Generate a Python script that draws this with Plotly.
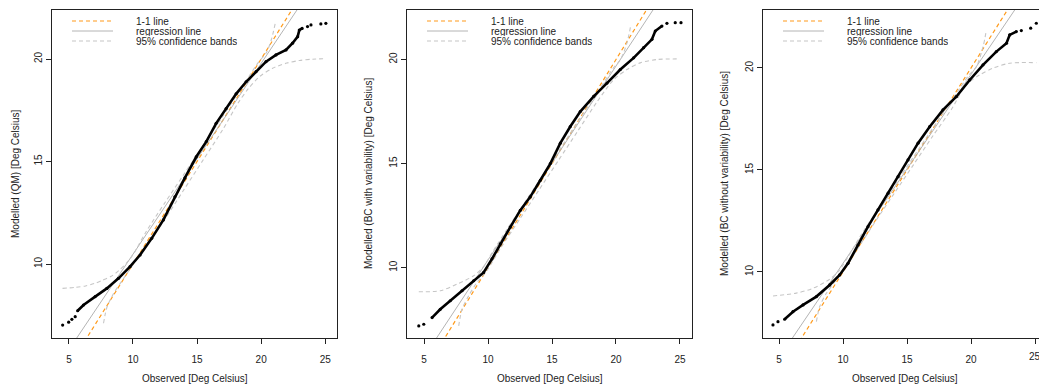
import plotly.graph_objects as go

W, H = 1039, 387

# ---------------- data ----------------
x_ticks = [5, 10, 15, 20, 25]
y_ticks = [10, 15, 20]

y_titles = ["Modelled (QM) [Deg Celsius]",
            "Modelled (BC with variability) [Deg Celsius]",
            "Modelled (BC without variability) [Deg Celsius]"]
x_title = "Observed [Deg Celsius]"
legend_labels = ["1-1 line", "regression line", "95% confidence bands"]

# panel 1 (QM)
p1_x = [5.68, 6.14, 7.05, 7.96, 8.87, 9.77, 10.55, 11.46, 12.37, 13.27, 14.05, 14.94, 15.72,
        16.49, 17.27, 18.05, 18.83, 19.6, 20.38, 21.16, 21.94, 22.45, 22.85, 22.98, 23.2]
p1_y = [7.72, 8.0, 8.41, 8.81, 9.30, 9.87, 10.44, 11.25, 12.15, 13.28, 14.2, 15.23, 15.97,
        16.86, 17.58, 18.3, 18.89, 19.38, 19.87, 20.2, 20.44, 20.77, 21.09, 21.41, 21.49]
p1_tail_x = [4.51, 4.98, 5.23, 5.49, 23.62, 23.89, 24.66, 25.05]
p1_tail_y = [7.02, 7.16, 7.30, 7.43, 21.58, 21.66, 21.71, 21.74]
p1_up_x = [4.5, 5.5, 6.3, 7.0, 7.6, 8.3, 8.9, 9.5, 10.0, 11.0, 12.5, 14.0, 15.5, 17.0, 18.0,
           19.0, 19.8, 20.4, 20.8, 21.1]
p1_up_y = [8.81, 8.86, 8.93, 9.05, 9.2, 9.4, 9.68, 10.05, 10.45, 11.55, 13.0, 14.4, 15.8, 17.2,
           18.15, 19.1, 19.85, 20.3, 20.95, 21.74]
p1_lo_x = [7.7, 7.85, 8.0, 8.5, 9.1, 9.9, 11.0, 12.5, 14.0, 15.5, 17.0, 18.2, 19.0, 19.9, 20.9,
           22.0, 23.0, 24.0, 25.05]
p1_lo_y = [7.11, 7.6, 7.95, 8.58, 9.14, 9.87, 10.85, 12.2, 13.65, 15.1, 16.55, 17.85, 18.55,
           19.15, 19.55, 19.8, 19.93, 19.99, 20.02]

# panel 2 (BC with variability)
p2_x = [5.63, 6.27, 7.05, 7.97, 8.88, 9.66, 10.31, 10.96, 11.74, 12.52, 13.3, 14.09, 14.87,
        15.65, 16.43, 17.21, 18.26, 19.3, 20.34, 21.38, 22.16, 22.81, 23.07, 23.59]
p2_y = [7.6, 8.0, 8.41, 8.89, 9.37, 9.77, 10.42, 11.14, 11.95, 12.75, 13.4, 14.2, 15.0,
        15.98, 16.78, 17.5, 18.23, 18.87, 19.52, 20.08, 20.57, 20.97, 21.37, 21.61]
p2_tail_x = [4.59, 4.98, 23.98, 24.63, 25.08]
p2_tail_y = [7.2, 7.28, 21.74, 21.77, 21.77]
p2_up_x = [4.59, 6.27, 7.58, 8.88, 9.66, 10.3, 11.5, 13.0, 14.5, 16.0, 17.5, 18.8, 19.8,
           20.34, 20.86, 21.17]
p2_up_y = [8.84, 8.89, 9.21, 9.61, 10.05, 10.7, 11.85, 13.25, 14.65, 16.05, 17.45, 18.65,
           19.6, 19.98, 20.8, 21.69]
p2_lo_x = [7.71, 7.97, 8.49, 9.14, 9.9, 11.0, 12.5, 14.0, 15.5, 17.0, 18.5, 19.82, 20.86,
           21.9, 23.2, 24.9]
p2_lo_y = [7.2, 8.0, 8.65, 9.29, 9.85, 10.95, 12.35, 13.75, 15.15, 16.55, 17.95, 19.03,
           19.52, 19.84, 20.0, 20.03]

# panel 3 (BC without variability)
p3_x = [5.44, 6.09, 6.88, 7.92, 8.96, 9.74, 10.39, 11.17, 11.95, 12.73, 13.52, 14.3, 15.08,
        15.86, 16.77, 17.81, 18.85, 19.9, 20.94, 21.98, 22.77, 23.02, 23.54]
p3_y = [7.68, 8.05, 8.38, 8.79, 9.36, 9.85, 10.42, 11.32, 12.22, 13.04, 13.86, 14.67, 15.49,
        16.31, 17.12, 17.94, 18.59, 19.41, 20.15, 20.8, 21.21, 21.62, 21.78]
p3_tail_x = [4.53, 4.92, 23.93, 24.66, 25.1]
p3_tail_y = [7.4, 7.56, 21.83, 21.95, 22.19]
p3_up_x = [4.53, 6.35, 7.66, 8.96, 9.74, 10.4, 11.5, 13.0, 14.5, 16.0, 17.5, 18.8, 19.8,
           20.42, 20.94, 21.2]
p3_up_y = [8.82, 8.96, 9.2, 9.64, 10.1, 10.75, 11.9, 13.3, 14.7, 16.1, 17.5, 18.7, 19.62,
           20.06, 21.04, 21.86]
p3_lo_x = [7.92, 8.18, 8.7, 9.35, 10.0, 11.0, 12.5, 14.0, 15.5, 17.0, 18.5, 19.61, 20.68,
           21.72, 23.02, 25.1]
p3_lo_y = [7.56, 8.3, 8.95, 9.52, 10.05, 11.0, 12.45, 13.85, 15.25, 16.65, 18.0, 19.17,
           19.66, 19.99, 20.23, 20.26]

# regression lines (intercept, slope)
reg_intercept = [1.167, 1.046, 1.16]
reg_slope = [0.931, 0.932, 0.926]

panels = [
    dict(x=p1_x, y=p1_y, tx=p1_tail_x, ty=p1_tail_y, ux=p1_up_x, uy=p1_up_y, lx=p1_lo_x, ly=p1_lo_y),
    dict(x=p2_x, y=p2_y, tx=p2_tail_x, ty=p2_tail_y, ux=p2_up_x, uy=p2_up_y, lx=p2_lo_x, ly=p2_lo_y),
    dict(x=p3_x, y=p3_y, tx=p3_tail_x, ty=p3_tail_y, ux=p3_up_x, uy=p3_up_y, lx=p3_lo_x, ly=p3_lo_y),
]

# ---------------- layout geometry (pixels) ----------------
box_left = [52, 407, 763]
box_right = [337, 692, 1047]          # third panel is cut off by the page edge
box_top, box_bottom = 10, 338
x_ranges = [[3.68, 25.92], [3.67, 25.94], [3.75, 25.31]]
y_ranges = [[6.39, 22.39], [6.62, 22.38], [6.76, 22.84]]
ytitle_px = [15, 368, 724]

ORANGE = "#FF9A1A"
REG = "#B4B4B4"
BAND = "#C6C6C6"
AX = "#222222"
FONT = "Liberation Sans, Arial, sans-serif"
FS = 10

fig = go.Figure()
layout = dict(width=W, height=H, margin=dict(l=0, r=0, t=0, b=0),
              paper_bgcolor="white", plot_bgcolor="white", showlegend=False,
              font=dict(family=FONT, size=FS, color=AX))
annotations, shapes = [], []

ydom = [1 - box_bottom / H, 1 - box_top / H]
for i, p in enumerate(panels):
    k = "" if i == 0 else str(i + 1)
    xa, ya = "x" + k, "y" + k
    right = min(box_right[i], W)
    xdom = [box_left[i] / W, right / W]
    last = (i == 2)
    layout["xaxis" + k] = dict(domain=xdom, range=x_ranges[i], anchor=ya, tickvals=x_ticks,
                               showgrid=False, zeroline=False, showline=True, linecolor=AX,
                               linewidth=1, mirror=True, ticks="outside", ticklen=5,
                               ticklabelstandoff=7,
                               tickcolor=AX, tickfont=dict(size=FS, color=AX, family=FONT))
    layout["yaxis" + k] = dict(domain=ydom, range=y_ranges[i], anchor=xa, tickvals=y_ticks,
                               showgrid=False, zeroline=False, showline=True, linecolor=AX,
                               linewidth=1, mirror=(not last), ticks="outside", ticklen=5,
                               tickcolor=AX, tickangle=-90,
                               tickfont=dict(size=FS, color=AX, family=FONT))
    x0, x1 = x_ranges[i]
    ext = [x0 - 5, x1 + 5]
    # 1-1 line
    fig.add_trace(go.Scatter(x=ext, y=ext, mode="lines", xaxis=xa, yaxis=ya,
                             line=dict(color=ORANGE, width=1.2, dash="4px,3px")))
    # regression line
    fig.add_trace(go.Scatter(x=ext, y=[reg_intercept[i] + reg_slope[i] * v for v in ext],
                             mode="lines", xaxis=xa, yaxis=ya,
                             line=dict(color=REG, width=1)))
    # confidence bands
    for bx, by in ((p["ux"], p["uy"]), (p["lx"], p["ly"])):
        fig.add_trace(go.Scatter(x=bx, y=by, mode="lines", xaxis=xa, yaxis=ya,
                                 line=dict(color=BAND, width=1.1, dash="4px,3px",
                                           shape="spline", smoothing=0.8)))
    # points
    fig.add_trace(go.Scatter(x=p["x"], y=p["y"], mode="lines+markers", xaxis=xa, yaxis=ya,
                             line=dict(color="black", width=2.6),
                             marker=dict(color="black", size=3.2)))
    fig.add_trace(go.Scatter(x=p["tx"], y=p["ty"], mode="markers", xaxis=xa, yaxis=ya,
                             marker=dict(color="black", size=3.2)))

    # titles
    annotations.append(dict(text=x_title, xref="paper", yref="paper",
                            x=(box_left[i] + box_right[i]) / 2 / W, y=1 - 378 / H,
                            showarrow=False, xanchor="center", yanchor="middle",
                            font=dict(size=FS, color=AX, family=FONT)))
    annotations.append(dict(text=y_titles[i], xref="paper", yref="paper",
                            x=ytitle_px[i] / W, y=1 - (box_top + box_bottom) / 2 / H,
                            textangle=-90, showarrow=False, xanchor="center",
                            yanchor="middle", font=dict(size=FS, color=AX, family=FONT)))
    # legend (inside top-left)
    styles = [dict(color=ORANGE, width=1.2, dash="4px,3px"),
              dict(color=REG, width=1),
              dict(color=BAND, width=1.1, dash="4px,3px")]
    rows = [21, 31, 41]
    for r, st, lab in zip(rows, styles, legend_labels):
        yy = 1 - r / H
        shapes.append(dict(type="line", xref="paper", yref="paper",
                           x0=(box_left[i] + 20) / W, x1=(box_left[i] + 61) / W,
                           y0=yy, y1=yy, line=st))
        annotations.append(dict(text=lab, xref="paper", yref="paper",
                                x=(box_left[i] + 82) / W, y=yy, showarrow=False,
                                xanchor="left", yanchor="middle", height=10,
                                font=dict(size=FS, color=AX, family=FONT)))

# last tick label of the third panel, partly cut by the page edge as in the reference
annotations.append(dict(text=str(x_ticks[-1]), xref="x3", yref="paper", x=x_ticks[-1],
                        y=1 - 356 / H, showarrow=False, xanchor="center", yanchor="middle",
                        font=dict(size=FS, color=AX, family=FONT)))

layout["annotations"] = annotations
layout["shapes"] = shapes
fig.update_layout(**layout)
fig.write_html("out.html", config={"displayModeBar": False},
               post_script="document.body.style.margin='0';document.body.style.overflow='hidden';")
